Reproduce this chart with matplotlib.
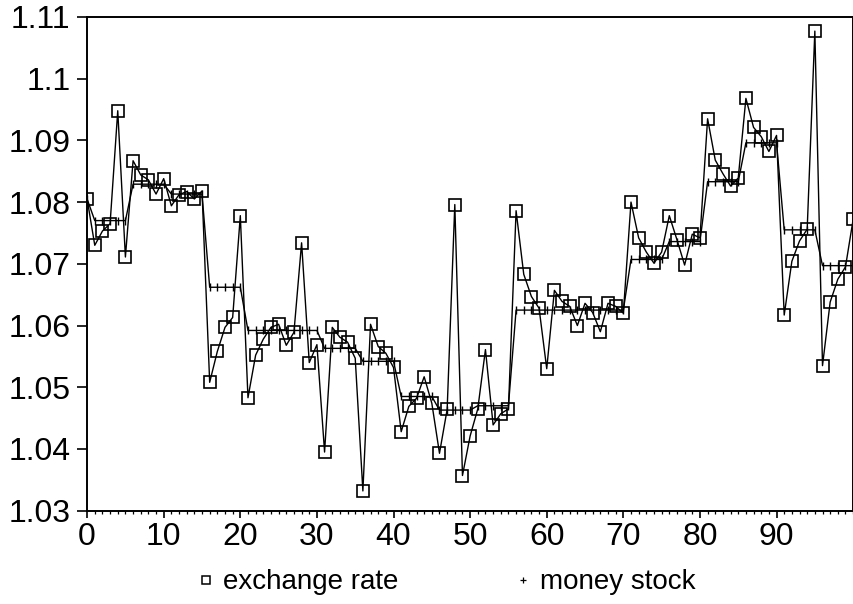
import matplotlib
matplotlib.use("Agg")
import matplotlib.pyplot as plt
from matplotlib.lines import Line2D
from matplotlib.ticker import MultipleLocator

plt.rcParams['font.family'] = ['Liberation Sans', 'DejaVu Sans']

periods = list(range(101))

exchange_rate = [
    1.0805, 1.0730, 1.0753, 1.0765, 1.0948, 1.0711, 1.0867, 1.0844, 1.0836, 1.0813,
    1.0838, 1.0794, 1.0812, 1.0817, 1.0805, 1.0818, 1.0508, 1.0558, 1.0597, 1.0613,
    1.0778, 1.0483, 1.0552, 1.0578, 1.0597, 1.0602, 1.0568, 1.0589, 1.0734, 1.0540,
    1.0569, 1.0395, 1.0597, 1.0581, 1.0573, 1.0547, 1.0332, 1.0602, 1.0566, 1.0555,
    1.0532, 1.0428, 1.0469, 1.0482, 1.0517, 1.0474, 1.0393, 1.0464, 1.0796, 1.0357,
    1.0421, 1.0465, 1.0561, 1.0439, 1.0457, 1.0465, 1.0786, 1.0683, 1.0647, 1.0628,
    1.0530, 1.0657, 1.0639, 1.0631, 1.0600, 1.0636, 1.0621, 1.0590, 1.0636, 1.0631,
    1.0620, 1.0800, 1.0742, 1.0719, 1.0701, 1.0719, 1.0778, 1.0739, 1.0698, 1.0748,
    1.0742, 1.0935, 1.0868, 1.0846, 1.0826, 1.0839, 1.0968, 1.0921, 1.0906, 1.0882,
    1.0908, 1.0617, 1.0704, 1.0737, 1.0756, 1.1077, 1.0535, 1.0638, 1.0675, 1.0695,
    1.0772,
]

money_stock = [
    1.0805, 1.0770, 1.0770, 1.0770, 1.0770, 1.0770, 1.0829, 1.0829, 1.0829, 1.0829,
    1.0829, 1.0813, 1.0813, 1.0813, 1.0813, 1.0813, 1.0662, 1.0662, 1.0662, 1.0662,
    1.0662, 1.0592, 1.0592, 1.0592, 1.0592, 1.0592, 1.0592, 1.0592, 1.0592, 1.0592,
    1.0592, 1.0563, 1.0563, 1.0563, 1.0563, 1.0563, 1.0542, 1.0542, 1.0542, 1.0542,
    1.0542, 1.0485, 1.0485, 1.0485, 1.0485, 1.0485, 1.0463, 1.0463, 1.0463, 1.0463,
    1.0463, 1.0470, 1.0470, 1.0470, 1.0470, 1.0470, 1.0625, 1.0625, 1.0625, 1.0625,
    1.0625, 1.0625, 1.0625, 1.0625, 1.0625, 1.0625, 1.0625, 1.0625, 1.0625, 1.0625,
    1.0625, 1.0707, 1.0707, 1.0707, 1.0707, 1.0707, 1.0736, 1.0736, 1.0736, 1.0736,
    1.0736, 1.0833, 1.0833, 1.0833, 1.0833, 1.0833, 1.0896, 1.0896, 1.0896, 1.0896,
    1.0896, 1.0755, 1.0755, 1.0755, 1.0755, 1.0755, 1.0697, 1.0697, 1.0697, 1.0697,
    1.0697,
]

y_ticks = [1.03, 1.04, 1.05, 1.06, 1.07, 1.08, 1.09, 1.10, 1.11]
y_tick_labels = ['1.03', '1.04', '1.05', '1.06', '1.07', '1.08', '1.09', '1.1', '1.11']
x_ticks = [0, 10, 20, 30, 40, 50, 60, 70, 80, 90]

fig = plt.figure(figsize=(8.54, 6.04), dpi=100)
ax = fig.add_axes([0.102, 0.1545, 0.897, 0.8175])

# money stock: step levels drawn as a joined line with small tick marks
ax.plot(periods, money_stock, color='black', linewidth=1.0,
        marker='|', markersize=6, markeredgewidth=1.0, zorder=2)
# exchange rate: open squares joined by a thin line
ax.plot(periods, exchange_rate, color='black', linewidth=1.0,
        marker='s', markersize=8, markerfacecolor='none',
        markeredgewidth=1.2, zorder=3)

ax.set_xlim(0, 100)
ax.set_ylim(1.03, 1.11)
ax.set_xticks(x_ticks)
ax.xaxis.set_minor_locator(MultipleLocator(1))
ax.set_yticks(y_ticks)
ax.set_yticklabels(y_tick_labels)

for side in ['left', 'right', 'top', 'bottom']:
    ax.spines[side].set_linewidth(1.4)

ax.tick_params(axis='y', which='major', direction='out', length=7, width=1.2,
               labelsize=23, pad=5)
ax.tick_params(axis='x', which='major', direction='out', length=5, width=1.2,
               labelsize=23, pad=3)
ax.tick_params(axis='x', which='minor', direction='out', length=2.5, width=0.9)

handles = [
    Line2D([], [], linestyle='none', marker='s', markersize=6,
           markerfacecolor='none', markeredgecolor='black', markeredgewidth=1.1),
    Line2D([], [], linestyle='none', marker='+', markersize=5,
           markeredgecolor='black', markeredgewidth=0.9),
]
fig.legend(handles, ['exchange rate', 'money stock'], loc='center left',
           bbox_to_anchor=(0.212, 0.036), ncol=2, frameon=False, fontsize=20,
           borderpad=0, handlelength=0.8, handletextpad=0.2, columnspacing=4.1)

fig.savefig('out.png', dpi=100)
